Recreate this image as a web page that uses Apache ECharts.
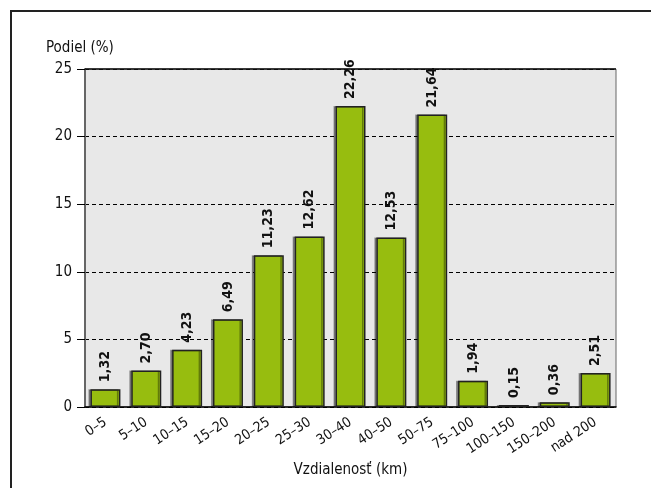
<!DOCTYPE html>
<html>
<head>
<meta charset="utf-8">
<script src="https://cdn.jsdelivr.net/npm/echarts@6/dist/echarts.min.js"></script>
<style>
  html, body { margin: 0; padding: 0; background: #fff; }
  #chart { width: 651px; height: 488px; }
</style>
</head>
<body>
<div id="chart"></div>
<script>
// Distance bands and share of trips in each band (%)
const categories = ['0–5', '5–10', '10–15', '15–20', '20–25', '25–30', '30–40', '40–50', '50–75', '75–100', '100–150', '150–200', 'nad 200'];
const shares = [1.32, 2.70, 4.23, 6.49, 11.23, 12.62, 22.26, 12.53, 21.64, 1.94, 0.15, 0.36, 2.51];
const yTicks = [0, 5, 10, 15, 20, 25];

const FONT = '"DejaVu Sans Condensed", "Liberation Sans Narrow", "Liberation Sans", Arial, sans-serif';

const chart = echarts.init(document.getElementById('chart'));
chart.setOption({
  animation: false,
  textStyle: { fontFamily: FONT },
  grid: {
    left: 85, top: 69, right: 35, bottom: 81,
    show: true,
    backgroundColor: '#e8e8e8',
    borderColor: '#666',
    borderWidth: 1
  },
  graphic: [
    {
      type: 'rect',
      shape: { x: 11, y: 11, width: 700, height: 600 },
      style: { fill: 'none', stroke: '#222', lineWidth: 2 },
      silent: true
    },
    {
      type: 'text',
      left: 46, top: 41,
      style: { text: 'Podiel (%)', font: '15px ' + FONT, fill: '#111' }
    },
    {
      type: 'line',
      shape: { x1: 85, y1: 69, x2: 616, y2: 69 },
      style: { stroke: '#111', lineWidth: 1.5 },
      z: 10
    }
  ],
  xAxis: {
    type: 'category',
    data: categories,
    axisTick: { show: false },
    axisLine: { lineStyle: { color: '#000', width: 1.5 } },
    axisLabel: {
      interval: 0,
      rotate: 33,
      margin: 14,
      fontSize: 14,
      color: '#111',
      fontFamily: FONT
    },
    name: 'Vzdialenosť (km)',
    nameLocation: 'middle',
    nameGap: 51,
    nameTextStyle: { fontSize: 15, color: '#111', fontFamily: FONT }
  },
  yAxis: {
    type: 'value',
    min: yTicks[0],
    max: yTicks[yTicks.length - 1],
    interval: 5,
    axisLine: { show: true, lineStyle: { color: '#666', width: 2 } },
    axisTick: { show: true, length: 8, lineStyle: { color: '#000', width: 1 } },
    axisLabel: { fontSize: 15, color: '#111', margin: 13, fontFamily: FONT },
    splitLine: { show: true, lineStyle: { color: '#000', type: [4, 3], width: 1 } }
  },
  series: [{
    type: 'bar',
    data: shares,
    barWidth: 30,
    itemStyle: {
      color: '#97bd0f',
      borderColor: '#222',
      borderWidth: 1.5,
      shadowColor: 'rgba(0,0,0,0.35)',
      shadowOffsetX: -2,
      shadowOffsetY: 0,
      shadowBlur: 0
    },
    label: {
      show: true,
      position: 'top',
      rotate: 90,
      align: 'left',
      verticalAlign: 'middle',
      distance: 7,
      fontSize: 14,
      fontWeight: 'bold',
      color: '#111',
      fontFamily: FONT,
      formatter: p => p.value.toFixed(2).replace('.', ',')
    }
  }]
});
</script>
</body>
</html>
